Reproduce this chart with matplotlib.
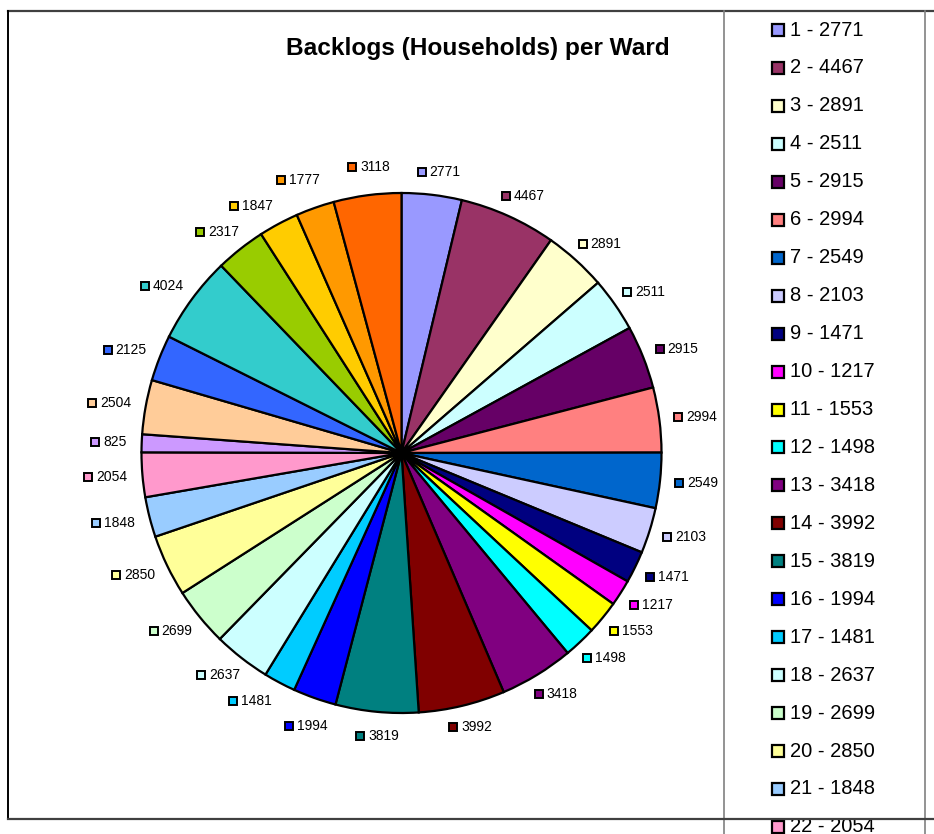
import numpy as np
import matplotlib
matplotlib.use("Agg")
import matplotlib.pyplot as plt
from matplotlib.patches import Rectangle

plt.rcParams['font.family'] = ['Liberation Sans', 'DejaVu Sans']

# Ward backlogs (households)
wards = list(range(1, 31))
backlogs = [2771, 4467, 2891, 2511, 2915, 2994, 2549, 2103, 1471, 1217,
            1553, 1498, 3418, 3992, 3819, 1994, 1481, 2637, 2699, 2850,
            1848, 2054, 825, 2504, 2125, 4024, 2317, 1847, 1777, 3118]
colors = ['#9999FF', '#993366', '#FFFFCC', '#CCFFFF', '#660066', '#FF8080',
          '#0066CC', '#CCCCFF', '#000080', '#FF00FF', '#FFFF00', '#00FFFF',
          '#800080', '#800000', '#008080', '#0000FF', '#00CCFF', '#CCFFFF',
          '#CCFFCC', '#FFFF99', '#99CCFF', '#FF99CC', '#CC99FF', '#FFCC99',
          '#3366FF', '#33CCCC', '#99CC00', '#FFCC00', '#FF9900', '#FF6600']
title = 'Backlogs (Households) per Ward'

W, H = 934, 834
fig = plt.figure(figsize=(W / 100, H / 100), dpi=100)
ax = fig.add_axes([0, 0, 1, 1])


def Y(y):
    # pixel row (from top) -> axes y
    return H - y


cx, cy, R = 401.5, Y(453), 260
ax.pie(backlogs, colors=colors, center=(cx, cy), radius=R, startangle=90,
       counterclock=False, frame=True,
       wedgeprops=dict(edgecolor='black', linewidth=1.6))

# data labels around the pie, nudged apart when crowded (like Excel does)
total = float(sum(backlogs))
cum = np.cumsum([0] + backlogs[:-1])
angles = [(s + v / 2.0) / total * 360.0 for s, v in zip(cum, backlogs)]
radii = [275.0] * len(backlogs)
widths = [13 + len(str(v)) * 7.6 for v in backlogs]


def label_box(i):
    th = np.radians(angles[i])
    s, co = np.sin(th), np.cos(th)
    w = widths[i]
    bx = cx + radii[i] * s + (w / 2) * s - w / 2
    by = cy + radii[i] * co + 7 * co
    return bx, by, w


def overlap(i, j, padx=13, pady=5.5):
    x1, y1, w1 = label_box(i)
    x2, y2, w2 = label_box(j)
    return (x1 - padx < x2 + w2 + padx and x2 - padx < x1 + w1 + padx and
            abs(y1 - y2) < 14 + 2 * pady)


n = len(backlogs)
for it in range(400):
    moved = False
    for i in range(n):
        j = (i + 1) % n
        if overlap(i, j):
            angles[i] -= 0.3
            angles[j] += 0.3
            radii[i] += 0.6
            radii[j] += 0.6
            moved = True
    if not moved:
        break

for i, (v, c) in enumerate(zip(backlogs, colors)):
    bx, by, w = label_box(i)
    ax.add_patch(Rectangle((bx, by - 4), 8, 8, facecolor=c, edgecolor='black',
                           linewidth=1.4, zorder=5))
    ax.text(bx + 12, by, str(v), fontsize=10, ha='left', va='center', zorder=5)

# title
ax.text(478, Y(48), title, fontsize=17.6, fontweight='bold', ha='center', va='center')

# chart frame
ax.plot([8, W], [Y(11), Y(11)], color='#404040', lw=1.6, clip_on=False)
ax.plot([8, W], [Y(819), Y(819)], color='#404040', lw=1.6, clip_on=False, zorder=6)
ax.plot([8, 8], [Y(11), Y(819)], color='black', lw=1.4)

# legend box (runs off the bottom of the picture, as in the original)
ax.plot([724, 724], [Y(11), 0], color='#808080', lw=1.2)
ax.plot([925, 925], [Y(11), 0], color='#808080', lw=1.2)
for i, (wd, v, c) in enumerate(zip(wards, backlogs, colors)):
    yy = 30 + i * 37.95
    if yy > H + 5:
        break
    ax.add_patch(Rectangle((772, Y(yy) - 6), 12, 12, facecolor=c, edgecolor='black',
                           linewidth=1.6, zorder=5))
    ax.text(790, Y(yy), '%d - %d' % (wd, v), fontsize=14.5, ha='left', va='center')

ax.set_xlim(0, W)
ax.set_ylim(0, H)
ax.axis('off')

fig.savefig('out.png', dpi=100, facecolor='white')
